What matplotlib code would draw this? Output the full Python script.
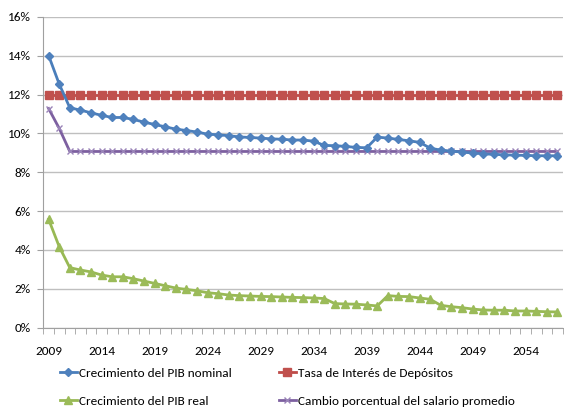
import numpy as np
import matplotlib
matplotlib.use('Agg')
import matplotlib.pyplot as plt
from matplotlib.ticker import FuncFormatter, MultipleLocator

plt.rcParams['font.family'] = ['Carlito', 'DejaVu Sans']

# data (percent)
years = list(range(2009, 2058))
pib_nominal = [14.01, 12.54, 11.32, 11.20, 11.06, 10.93, 10.82, 10.82, 10.72, 10.58,
               10.46, 10.34, 10.22, 10.15, 10.07, 9.96, 9.93, 9.88, 9.82, 9.79,
               9.76, 9.72, 9.70, 9.66, 9.66, 9.60, 9.38, 9.37, 9.33, 9.28,
               9.26, 9.81, 9.76, 9.69, 9.62, 9.54, 9.24, 9.14, 9.09, 9.04,
               8.99, 8.95, 8.92, 8.90, 8.88, 8.87, 8.85, 8.85, 8.85]
tasa_depositos = [12.0] * len(years)
pib_real = [5.58, 4.17, 3.09, 2.97, 2.87, 2.71, 2.62, 2.62, 2.52, 2.40,
            2.28, 2.16, 2.04, 1.97, 1.90, 1.80, 1.75, 1.68, 1.65, 1.63,
            1.61, 1.60, 1.58, 1.56, 1.55, 1.53, 1.50, 1.24, 1.22, 1.21,
            1.17, 1.12, 1.65, 1.61, 1.60, 1.53, 1.46, 1.15, 1.08, 1.03,
            0.96, 0.91, 0.90, 0.90, 0.86, 0.86, 0.84, 0.82, 0.81]
salario = [11.28, 10.26] + [9.07] * (len(years) - 2)

labels = ['Crecimiento del PIB nominal', 'Tasa de Interés de Depósitos',
          'Crecimiento del PIB real', 'Cambio porcentual del salario promedio']

fig = plt.figure(figsize=(5.64, 4.09), dpi=100)
ax = fig.add_axes([0.0768, 0.1988, 0.921, 0.760])

x = np.arange(len(years))
l1, = ax.plot(x, pib_nominal, color='#4A7EBB', lw=2, marker='D', ms=4.5,
              mfc='#4F81BD', mec='#4F81BD', zorder=4)
l2, = ax.plot(x, tasa_depositos, color='#BE4B48', lw=2, marker='s', ms=5.8,
              mfc='#C0504D', mec='#C0504D', zorder=3)
l3, = ax.plot(x, pib_real, color='#98B954', lw=2, marker='^', ms=5.5,
              mfc='#9BBB59', mec='#9BBB59', zorder=4)
l4, = ax.plot(x, salario, color='#7D60A0', lw=2, marker='x', ms=5, mew=1,
              mec='#9A84B8', zorder=2)

ax.set_xlim(-0.5, len(years) - 0.5)
ax.set_ylim(0, 16)
ax.yaxis.set_major_locator(MultipleLocator(2))
ax.yaxis.set_major_formatter(FuncFormatter(lambda v, p: '%d%%' % v))
ax.grid(axis='y', color='#BFBFBF', lw=1)
ax.set_axisbelow(True)

ax.set_xticks(x[::5])
ax.set_xticklabels([str(y) for y in years[::5]])
ax.set_xticks(np.arange(-0.5, len(years)), minor=True)
ax.tick_params(axis='x', which='major', length=0, pad=13, labelsize=9.5)
ax.tick_params(axis='x', which='minor', length=4, color='#A0A0A0')
ax.tick_params(axis='y', length=4, color='#A0A0A0', labelsize=9.5, pad=5)

for s in ['top', 'right']:
    ax.spines[s].set_visible(False)
for s in ['left', 'bottom']:
    ax.spines[s].set_color('#A0A0A0')

kw = dict(frameon=False, fontsize=9.5, handlelength=1.3, handletextpad=0.15,
          labelspacing=1.25, borderpad=0, loc='upper left')
fig.legend([l1, l3], [labels[0], labels[2]], bbox_to_anchor=(53 / 564, 1 - 361 / 409), **kw)
fig.legend([l2, l4], [labels[1], labels[3]], bbox_to_anchor=(272 / 564, 1 - 361 / 409), **kw)

fig.savefig('out.png', dpi=100)
